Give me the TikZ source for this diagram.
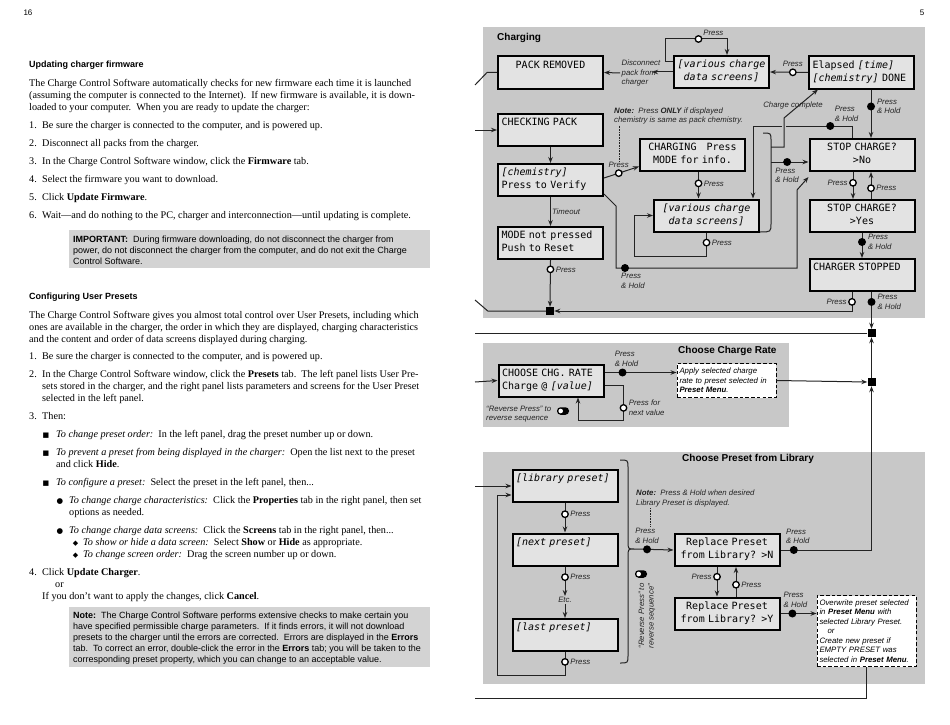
\documentclass[tikz,border=0pt]{standalone}
\usepackage{fontspec}
\setmainfont{Liberation Serif}
\setsansfont{Liberation Sans}
\setmonofont{DejaVu Sans Mono}[WordSpace={1,0,0}]
\newfontfamily\symfont{DejaVu Sans}
\usetikzlibrary{arrows.meta, positioning, calc}
\definecolor{panelgray}{RGB}{200,200,200}
\definecolor{lcdfill}{RGB}{227,227,227}
\definecolor{notegray}{RGB}{211,211,211}
\definecolor{inkgray}{RGB}{35,35,35}
\newcommand{\lcdfont}{\ttfamily\fontsize{10}{13}\selectfont\fontdimen2\font=6.02pt\fontdimen3\font=0pt\fontdimen4\font=0pt}
\newcommand{\lblfont}{\sffamily\itshape\fontsize{7.8}{9.5}\selectfont}
\newcommand{\bodyfont}{\rmfamily\fontsize{10.2}{12}\selectfont}
\newcommand{\boxfont}{\sffamily\fontsize{9}{11}\selectfont}
\newcommand{\ls}{\rule[-3.5pt]{0pt}{11pt}}
\newcommand{\sqbul}{{\symfont\fontsize{7}{6}\selectfont ■}}
\newcommand{\dotbul}{{\symfont\fontsize{7.5}{6}\selectfont ●}}
\newcommand{\dmdbul}{{\symfont\fontsize{7}{6}\selectfont ◆}}
\newcommand{\numit}[1]{\llap{\makebox[13pt][l]{#1}}}
\begin{document}
\begin{tikzpicture}[
  x=1pt, y=-1pt,
  lcd/.style={draw=black, line width=2pt, fill=lcdfill, text width=98pt, inner xsep=3.5pt, inner ysep=0pt, minimum height=32pt, align=left, font=\lcdfont},
  lcdc/.style={lcd, align=center},
  dashbox/.style={draw=black, line width=0.9pt, dash pattern=on 3.5pt off 2.2pt, fill=white, text width=94pt, inner xsep=2.5pt, minimum height=34pt, align=left, font=\lblfont},
  arr/.style={draw=inkgray, line width=1pt, -{Stealth[length=6pt, width=4.5pt]}},
  wire/.style={draw=inkgray, line width=1pt},
  presspt/.style={circle, draw=black, fill=white, line width=1.3pt, minimum size=6.5pt, inner sep=0pt},
  holdpt/.style={circle, fill=black, minimum size=8pt, inner sep=0pt},
  sqj/.style={fill=black, minimum size=8pt, inner sep=0pt},
  lbl/.style={font=\lblfont, text=inkgray, inner sep=1pt},
  lbl2/.style={lbl, align=left},
  ptitle/.style={font=\sffamily\bfseries\fontsize{10}{12}\selectfont, inner sep=0pt},
  head/.style={font=\sffamily\bfseries\fontsize{9}{11}\selectfont, inner sep=0pt},
  body/.style={font=\bodyfont, align=left, inner sep=0pt, anchor=north west},
  boxtext/.style={font=\boxfont, align=left, inner sep=0pt, anchor=north west},
  pnum/.style={font=\sffamily\fontsize{8}{10}\selectfont, inner sep=0pt},
  toggle/.style={fill=black, rounded corners=3.5pt, minimum width=12pt, minimum height=7.5pt, inner sep=0pt,
    path picture={\fill[white] ([xshift=3.7pt]path picture bounding box.west) circle (2.3pt);}}
]
  \fill[white] (0,0) rectangle (950,725);
  \useasboundingbox (0,0) rectangle (950,725);

  % Left page: text
  \node[pnum] (pg16) at (28,13) {16};
  \node[head, anchor=base west] (hfw) at (29,67.5) {Updating charger firmware};
  \node[body] (fwpara) at (29,79.5) {The Charge Control Software automatically checks for new firmware each time it is launched\\
    (assuming the computer is connected to the Internet).\ \ If new firmware is available, it is down-\\
    loaded to your computer.\ \ When you are ready to update the charger:};
  \node[body] (fwlist) at (42,121) {\numit{1.}Be sure the charger is connected to the computer, and is powered up.\\[6pt]
    \numit{2.}Disconnect all packs from the charger.\\[6pt]
    \numit{3.}In the Charge Control Software window, click the \textbf{Firmware} tab.\\[6pt]
    \numit{4.}Select the firmware you want to download.\\[6pt]
    \numit{5.}Click \textbf{Update Firmware}.\\[6pt]
    \numit{6.}Wait—and do nothing to the PC, charger and interconnection—until updating is complete.};
  \fill[notegray] (69,230) rectangle (430,268);
  \node[boxtext] (important) at (73,235.5) {\textbf{IMPORTANT:}\ \ During firmware downloading, do not disconnect the charger from\\
    power, do not disconnect the charger from the computer, and do not exit the Charge\\
    Control Software.};

  \node[head, anchor=base west] (hup) at (29,299.5) {Configuring User Presets};
  \node[body] (uppara) at (29,311) {The Charge Control Software gives you almost total control over User Presets, including which\\
    ones are available in the charger, the order in which they are displayed, charging characteristics\\
    and the content and order of data screens displayed during charging.};
  \node[body] (uplist) at (42,352.5) {\numit{1.}Be sure the charger is connected to the computer, and is powered up.\\[6pt]
    \numit{2.}In the Charge Control Software window, click the \textbf{Presets} tab.\ \ The left panel lists User Pre-\\
    sets stored in the charger, and the right panel lists parameters and screens for the User Preset\\
    selected in the left panel.\\[6pt]
    \numit{3.}Then:\\[6pt]
    \hspace*{14pt}\llap{\sqbul\hspace{7pt}}\textit{To change preset order:}\ \ In the left panel, drag the preset number up or down.\\[6pt]
    \hspace*{14pt}\llap{\sqbul\hspace{7pt}}\textit{To prevent a preset from being displayed in the charger:}\ \ Open the list next to the preset\\
    \hspace*{14pt}and click \textbf{Hide}.\\[6pt]
    \hspace*{14pt}\llap{\sqbul\hspace{7pt}}\textit{To configure a preset:}\ \ Select the preset in the left panel, then...\\[6pt]
    \hspace*{27pt}\llap{\dotbul\hspace{6pt}}\textit{To change charge characteristics:}\ \ Click the \textbf{Properties} tab in the right panel, then set\\
    \hspace*{27pt}options as needed.\\[6pt]
    \hspace*{27pt}\llap{\dotbul\hspace{6pt}}\textit{To change charge data screens:}\ \ Click the \textbf{Screens} tab in the right panel, then...\\
    \hspace*{41pt}\llap{\dmdbul\hspace{5pt}}\textit{To show or hide a data screen:}\ \ Select \textbf{Show} or \textbf{Hide} as appropriate.\\
    \hspace*{41pt}\llap{\dmdbul\hspace{5pt}}\textit{To change screen order:}\ \ Drag the screen number up or down.\\[6pt]
    \numit{4.}Click \textbf{Update Charger}.\\
    \hspace*{13pt}or\\
    If you don’t want to apply the changes, click \textbf{Cancel}.};
  \fill[notegray] (69,607) rectangle (430,667);
  \node[boxtext] (upnote) at (73,611.5) {\textbf{Note:}\ \ The Charge Control Software performs extensive checks to make certain you\\
    have specified permissible charge parameters.\ \ If it finds errors, it will not download\\
    presets to the charger until the errors are corrected.\ \ Errors are displayed in the \textbf{Errors}\\
    tab.\ \ To correct an error, double-click the error in the \textbf{Errors} tab; you will be taken to the\\
    corresponding preset property, which you can change to an acceptable value.};

  % Right page: panels
  \node[pnum] (pg5) at (922,13) {5};
  \fill[panelgray] (483,27) rectangle (925,318);
  \fill[panelgray] (483,343) rectangle (789,427);
  \fill[panelgray] (483,452) rectangle (925,684);
  \node[ptitle, anchor=west] (tcharge) at (497,38) {Charging};
  \node[ptitle, anchor=west] (trate) at (678,351) {Choose Charge Rate};
  \node[ptitle, anchor=west] (tlib) at (682,459) {Choose Preset from Library};

  % Charging screens
  \node[lcdc] (pack) at (550.5,72.5) {\ls PACK REMOVED\\\ls};
  \node[lcd] (checkpack) at (550.5,130) {\ls CHECKING PACK\\\ls};
  \node[lcd] (chem) at (550.5,180) {\ls\textit{[chemistry]}\\\ls Press to Verify};
  \node[lcd] (modenp) at (550.5,243) {\ls MODE not pressed\\\ls Push to Reset};
  \node[lcdc, text width=90pt, inner xsep=2.5pt] (various1) at (721.5,72) {\ls\textit{[various charge}\\\ls\textit{data screens]}};
  \node[lcd] (elapsed) at (861.5,72.5) {\ls Elapsed \textit{[time]}\\\ls\textit{[chemistry]} DONE};
  \node[lcdc] (charging) at (692.5,154.5) {\ls CHARGING~~~Press\\\ls MODE for info.};
  \node[lcdc] (various2) at (706.5,215.5) {\ls\textit{[various charge}\\\ls\textit{data screens]}};
  \node[lcdc] (stopno) at (862,155) {\ls STOP CHARGE?\\\ls >No};
  \node[lcdc] (stopyes) at (862,216) {\ls STOP CHARGE?\\\ls >Yes};
  \node[lcd] (stopped) at (862,275) {\ls CHARGER STOPPED\\\ls};

  % Junctions
  \node[sqj] (j0) at (550,311) {};
  \node[sqj] (j1) at (871.5,333) {};
  \node[sqj] (j2) at (871.5,382) {};

  % Off-page ends
  \coordinate (offA) at (475,85);
  \coordinate (offB) at (475,130);
  \coordinate (offC) at (475,300);
  \coordinate (offD) at (475,333);
  \coordinate (offE) at (475,382);
  \coordinate (offF) at (475,486);
  \coordinate (offG) at (475,698);

  % Charging connectors
  \draw[wire] (pack.west) -- ++(-10,0) -- (offA);
  \draw[arr] (offB) -- (checkpack.west);
  \node[lbl2, anchor=west, inner sep=1.5pt] (discon) at (620,73) {Disconnect\\pack from\\charger};
  \coordinate (disconR) at (652,72);
  \draw[arr] (various1.west) -- (disconR);
  \draw[arr] (discon.west) -- (pack.east);
  \coordinate (loopTop) at (727,39);
  \draw[arr] ([yshift=10pt]various1.west) -- ++(-8,0) |- (loopTop)
    node[presspt, pos=0.77, label={[lbl]30:Press}] (p1) {} -- (loopTop |- various1.north);
  \draw[arr] (elapsed.west) -- (various1.east) node[presspt, pos=0.4, label={[lbl]90:Press}] (p2) {};
  \draw[arr] ([xshift=9.5pt]elapsed.south) -- ([xshift=9pt]stopno.north)
    node[holdpt, pos=0.35, label={[lbl2]0:Press\\\& Hold}] (h1) {};
  \node[lbl2, anchor=west] (note1) at (613,116) {\textbf{Note:}\ \ Press \textbf{ONLY} if displayed\\chemistry is same as pack chemistry.};
  \draw[densely dotted, inkgray, line width=0.6pt] ([xshift=6pt]note1.south west) -- ++(0,36);
  \draw[arr] ([yshift=2pt]chem.east) -- ([yshift=-12pt]charging.west)
    node[presspt, pos=0.42, label={[lbl]90:Press}] (p3) {};
  \draw[arr] (checkpack.south) -- (chem.north);
  \draw[arr] (chem.south) -- (modenp.north) node[lbl, midway, right] (tmo) {Timeout};
  \draw[arr] (modenp.south) -- (j0.north) node[presspt, pos=0.2, label={[lbl]0:Press}] (p4) {};
  \draw[wire] (j0.west) -- ++(-58,0) -- (offC);
  \draw[arr] ([xshift=-10pt]stopped.south) |- (j0.east) node[presspt, pos=0.26, label={[lbl]180:Press}] (p5) {};
  \draw[arr] ([xshift=9.5pt]stopped.south) -- (j1.north) node[holdpt, pos=0.27, label={[lbl2]0:Press\\\& Hold}] (h2) {};
  \draw[arr] ([xshift=-9pt]stopno.south) -- ([xshift=-9pt]stopyes.north) node[presspt, pos=0.4, label={[lbl]180:Press}] (p6) {};
  \draw[arr] ([xshift=9pt]stopyes.north) -- ([xshift=9pt]stopno.south) node[presspt, pos=0.4, label={[lbl]0:Press}] (p7) {};
  \draw[arr] (stopyes.south) -- (stopped.north) node[holdpt, pos=0.36, label={[lbl2]0:Press\\\& Hold}] (h3) {};
  \draw[arr] ([xshift=6pt]charging.south) -- ([xshift=6pt]charging.south |- various2.north)
    node[presspt, pos=0.44, label={[lbl]0:Press}] (p8) {};
  \draw[arr] (various2.south) -- ++(0,24) node[presspt, pos=0.42, label={[lbl]0:Press}] (p9) {}
    -| ([xshift=-19pt]various2.west) -- (various2.west);
  \draw[arr] ([xshift=-10pt]stopno.north) -- ++(0,-12) -| ([xshift=46.5pt]various2.north)
    node[holdpt, pos=0.11, label={[lbl2, anchor=south west]45:Press\\\& Hold}] (h4) {};

  % Brace: charging states
  \coordinate (braceTop) at (763,133);
  \coordinate (braceBot) at (760,232);
  \draw[wire] (braceTop) .. controls (771,133) .. (771,141) -- (771,223) .. controls (771,232) .. (braceBot);
  \coordinate (ccA) at (771,147);
  \draw[panelgray, line width=4pt] (784,144) -- (784,118);
  \draw[arr] (ccA) -- (784,147) -- (784,118) -- ([xshift=10pt]elapsed.south west);
  \node[lbl] (cclbl) at (793,105) {Charge complete};
  \coordinate (phA) at (771,162);
  \draw[arr] (phA) -- ([yshift=-7pt]stopno.west) node[holdpt, pos=0.43, label={[lbl2]-90:Press\\\& Hold}] (h5) {};
  \draw[arr] ([yshift=-14pt]chem.east) -- ++(12,12) -- ++(0,62) coordinate (hc) -- ++(181,0) -- ++(0,-78)
    -- ([yshift=-22pt]stopno.west);
  \node[holdpt, label={[lbl2, anchor=north west, xshift=-5pt]-90:Press\\\& Hold}] (h6) at ([xshift=9pt]hc) {};

  \draw[wire] (j1.west) -- (offD);
  \draw[arr] (j2.north) -- (j1.south);

  % Choose charge rate
  \node[lcd] (rate) at (551,380.5) {\ls CHOOSE CHG. RATE\\\ls Charge @ \textit{[value]}};
  \node[dashbox] (apply) at (726.5,380.5) {Apply selected charge\\rate to preset selected in\\\textbf{Preset Menu}.};
  \draw[arr] (offE) -- (rate.west);
  \draw[arr] ([yshift=8pt]rate.east) -- ([yshift=8pt]apply.west)
    node[holdpt, pos=0.25, label={[lbl2, xshift=4pt]90:Press\\\& Hold}] (h7) {};
  \draw[arr] ([yshift=-5pt]rate.east) -- ++(19,0) -- ++(0,35)
    node[presspt, pos=0.64, label={[lbl2]0:Press for\\next value}] (p10) {} -| ([xshift=27pt]rate.south);
  \draw[arr] (apply.east) -- (j2.west);
  \node[lbl2, anchor=west] (rev1) at (485,414) {“Reverse Press” to\\reverse sequence};
  \node[toggle] (tog1) at (563,411) {};

  % Choose preset from library
  \node[lcd] (lib) at (565,486) {\ls\textit{[library preset]}\\\ls};
  \node[lcd] (nextp) at (565,549.5) {\ls\textit{[next preset]}\\\ls};
  \node[lbl] (etc) at (565,600) {Etc.};
  \node[lcd] (lastp) at (565,635) {\ls\textit{[last preset]}\\\ls};
  \node[lcdc] (repn) at (727,550) {\ls Replace Preset\\\ls from Library? >N};
  \node[lcdc] (repy) at (727,613.5) {\ls Replace Preset\\\ls from Library? >Y};
  \node[dashbox, minimum height=71pt] (over) at (866.5,631) {Overwrite preset selected\\in \textbf{Preset Menu} with\\selected Library Preset.\\\hspace*{8pt}or\\Create new preset if\\EMPTY PRESET was\\selected in \textbf{Preset Menu}.};
  \draw[arr] (offF) -- (lib.west);
  \draw[arr] (lib.south) -- (nextp.north) node[presspt, pos=0.38, label={[lbl]0:Press}] (p11) {};
  \draw[arr] (nextp.south) -- (etc.north) node[presspt, pos=0.36, label={[lbl]0:Press}] (p12) {};
  \draw[arr] (etc.south) -- (lastp.north);
  \draw[arr] (lastp.south) -- ++(0,23) node[presspt, pos=0.43, label={[lbl]0:Press}] (p13) {}
    -| ([xshift=-14.5pt, yshift=-9pt]lib.west) -- ([yshift=-9pt]lib.west);
  \coordinate (brace2tip) at (634,549);
  \draw[wire] (620,460) .. controls (628,460) .. (628,468) -- (628,541) .. controls (628,549) .. (brace2tip)
    .. controls (628,549) .. (628,557) -- (628,655) .. controls (628,663) .. (620,663);
  \node[lbl2, anchor=west] (note2) at (635,498.5) {\textbf{Note:}\ \ Press \& Hold when desired\\Library Preset is displayed.};
  \draw[densely dotted, inkgray, line width=0.6pt] ([xshift=15pt]note2.south west) -- ++(0,18);
  \draw[arr] (brace2tip) -- (repn.west) node[holdpt, pos=0.33, label={[lbl2]90:Press\\\& Hold}] (h8) {};
  \draw[arr] ([xshift=-10pt]repn.south) -- ([xshift=-10pt]repy.north) node[presspt, pos=0.33, label={[lbl]180:Press}] (p14) {};
  \draw[arr] ([xshift=9pt]repy.north) -- ([xshift=9pt]repn.south) node[presspt, pos=0.4, label={[lbl]0:Press}] (p15) {};
  \draw[arr] (repn.east) -| (j2.south) node[holdpt, pos=0.073, label={[lbl2, xshift=4pt]90:Press\\\& Hold}] (h9) {};
  \draw[arr] (repy.east) -- (repy.east -| over.west) node[holdpt, pos=0.33, label={[lbl2, xshift=3pt]90:Press\\\& Hold}] (h10) {};
  \draw[wire] (over.south) |- (offG);
  \node[toggle] (tog2) at (641,574) {};
  \node[lbl2, rotate=90] (rev2) at (647,616) {“Reverse Press” to\\reverse sequence”};
\end{tikzpicture}
\end{document}
